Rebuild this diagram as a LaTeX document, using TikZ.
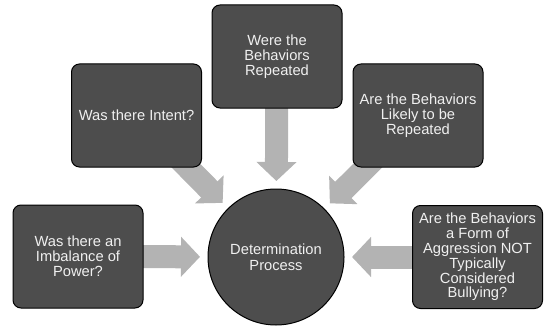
\documentclass[tikz,border=0pt]{standalone}
\usepackage{fontspec}
\setmainfont{Liberation Sans}
\usetikzlibrary{arrows.meta}
\pgfdeclarelayer{background}
\pgfsetlayers{background,main}
\definecolor{boxfill}{HTML}{4D4D4D}
\definecolor{arrowfill}{HTML}{B3B3B3}
\definecolor{textcol}{HTML}{F0F0F0}
\tikzset{
  qbox/.style={rectangle, rounded corners=8pt, draw=black, line width=1pt,
    fill=boxfill, minimum width=130pt, minimum height=103pt, inner sep=2pt,
    align=center, text=textcol, font=\fontsize{14.7pt}{14.8pt}\selectfont},
  hub/.style={circle, draw=black, line width=1pt, fill=boxfill,
    minimum size=136pt, inner sep=0pt, align=center, text=textcol,
    font=\fontsize{14.7pt}{16pt}\selectfont},
  blockarrow/.style={draw=arrowfill, line width=23pt, shorten >=76pt,
    -{Triangle[width=39pt,length=19pt]}}
}
\begin{document}
\begin{tikzpicture}[x=1pt, y=-1pt]
  \useasboundingbox (0,0) rectangle (545,326);

  \node[hub] (hub) at (276,257) {Determination\\Process};

  \node[qbox] (top) at (277,56.5) {Were the\\Behaviors\\Repeated};
  \node[qbox] (ul) at (136.5,115.5) {Was there Intent?};
  \node[qbox] (ur) at (418,115.5) {Are the Behaviors\\Likely to be\\Repeated};
  \node[qbox] (ll) at (78,256.5) {Was there an\\Imbalance of\\Power?};
  \node[qbox] (lr) at (477.5,257) {Are the Behaviors\\a Form of\\Aggression NOT\\Typically\\Considered\\Bullying?};

  % wide grey arrows run from behind each question box to the hub
  \begin{pgfonlayer}{background}
    \draw[blockarrow] (top.center) -- (hub.center);
    \draw[blockarrow] (ul.center) -- (hub.center);
    \draw[blockarrow] (ur.center) -- (hub.center);
    \draw[blockarrow] (ll.center) -- (hub.center);
    \draw[blockarrow] (lr.center) -- (hub.center);
  \end{pgfonlayer}
\end{tikzpicture}
\end{document}
